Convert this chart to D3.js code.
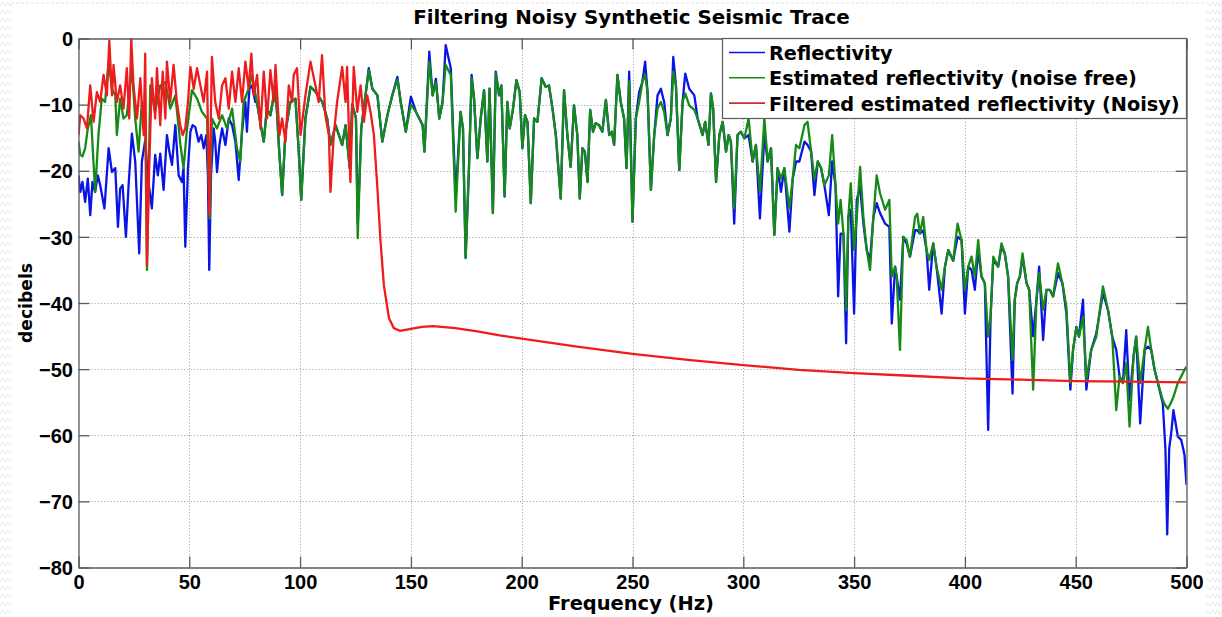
<!DOCTYPE html>
<html><head><meta charset="utf-8">
<script src="https://cdn.jsdelivr.net/npm/d3@7/dist/d3.min.js"></script>
<style>html,body{margin:0;padding:0;background:#fff;} svg{display:block}</style>
</head><body>
<svg id="chart" width="1222" height="617"></svg>
<script>
// ---------- DATA ----------
const chartTitle = "Filtering Noisy Synthetic Seismic Trace";
const xLabel = "Frequency (Hz)";
const yLabel = "decibels";
const freqTicks = [0, 50, 100, 150, 200, 250, 300, 350, 400, 450, 500];
const dbTicks = [0, -10, -20, -30, -40, -50, -60, -70, -80];
const seriesNames = ["Reflectivity", "Estimated reflectivity (noise free)", "Filtered estimated reflectivity (Noisy)"];

// [frequency Hz, decibels]
const reflectivity = [
[0,-20.7],[0.8,-23.2],[1.8,-21.7],[3,-24.7],[4.2,-21.2],[5.3,-26.7],[6.3,-21.7],[7.5,-23.2],[8.7,-20.7],[9.8,-22.2],
[11.7,-25.7],[13.6,-16.6],[15.1,-20.2],[16.6,-19.6],[17.8,-28.5],[18.8,-22.7],[19.9,-22.2],[21.4,-30],[22.6,-22.2],[24.1,-14.4],
[25.6,-18.6],[26.4,-24.7],[27.4,-32.5],[28.6,-18.6],[30.1,-15.4],[31.3,-21],[33.1,-25.7],[34.6,-17.6],[35.8,-20.7],[36.9,-17.4],
[38.4,-22.9],[39.9,-14.6],[41,-17.1],[42.2,-19.1],[43.7,-13.1],[45.2,-20.7],[46.7,-21.7],[47.4,-19.6],[48.2,-31.5],[49.4,-19.6],
[50.5,-14.1],[51.5,-13.1],[52.7,-13.4],[54.2,-15.6],[55.4,-14.6],[56.5,-16.6],[57.7,-14.6],[58.4,-20.7],[59,-35],[59.8,-20.7],
[61,-13.6],[61.7,-15.6],[62.5,-20.2],[63.6,-16.1],[64.8,-13.6],[66.3,-16.1],[67.8,-12.1],[69.3,-13.1],[70.8,-15.6],[72.3,-21.4],
[73.8,-14.1],[75.3,-9.6],[76,-14.1],[77.1,-7.6],[78.3,-7.1],[79.8,-9.6],
[80.5,-9.6],[82,-12.6],[83.6,-15.6],[85,-10.6],[86.6,-11.6],[88.9,-7.1],[90.4,-16.1],[91.9,-23.7],[93.4,-14.1],[95.6,-9.6],
[97.9,-9.1],[99.4,-17.1],[100.5,-24.4],[102.4,-12.1],[104.7,-7.3],[107,-8.1],[110,-9.6],[112.2,-12.1],[113.7,-16.1],[116,-13.1],
[119,-16.1],[120.5,-13.1],[122.4,-19.6],[123.5,-10],[125.2,-12],[126,-28],[127.6,-13.6],[129.5,-8.6],[131,-4.5],[132.6,-7.6],
[134.9,-8.6],[137.1,-15.6],[139.4,-11.6],[141.6,-8.6],[143.9,-5.8],[145.4,-9.6],[147.7,-14.1],[150,-8.8],[152.3,-11.1],[155.3,-13.1],
[156.1,-17.1],[158.3,-2],[159.8,-8.6],[161.3,-6.1],[162.8,-12.1],[164.3,-9.6],[165.7,-1],[168,-4.5],[170.2,-24],
[172.4,-11.1],[173.5,-13.6],[174.7,-33.2],[176.2,-19.6],[177.4,-5.5],[178.5,-9.1],[180,-18.1],[181.5,-12.1],[183,-7.8],[184.5,-18.6],
[185.5,-7.6],[187,-26.4],[188.3,-5],[189.8,-8.6],[190.8,-7.1],[192.3,-23.9],[193.5,-9.6],[194.6,-13.6],[196.1,-10.6],[197.6,-6.3],
[199.1,-8.1],[200.3,-16.6],[201.5,-11.6],[202.6,-12.6],[204.1,-24.9],[205.6,-12.1],[207.1,-12.6],[209,-6],[210.8,-7.3],[212.3,-7.1],
[213.9,-10.6],[215.4,-14.6],[217.6,-24.2],[219.1,-7.8],[220.6,-14.6],[222.1,-19.4],[223.6,-10.1],[225.1,-14.6],[226.2,-24.2],[227.4,-16.6],
[228.5,-17.1],[229.7,-21.7],[230.9,-10.8],[232.2,-14.1],[233.4,-12.8],[234.9,-13.1],[236.4,-14.1],[238,-9.3],[239.5,-14.6],[240.7,-14.1],
[241.7,-16.1],[243.2,-5.5],[244.7,-9.6],[246.2,-12.1],[247.3,-19.6],[248.5,-5],[250,-27.7],[251.5,-12.1],[253,-8.1],[254.5,-6.5],
[255.7,-3.5],[256.8,-8.1],[258.3,-22.9],[259.8,-14.6],[261.3,-8.6],[262.8,-7.6],[264.3,-9.6],[265.8,-14.6],[267.3,-12.1],[268.4,-2.8],
[269.6,-7.1],[271.1,-19.9],[272.6,-9.6],[273.8,-5.3],[275.6,-7.6],[277.9,-8.6],[279.4,-12.1],[281.6,-14.6],[282.8,-12.6],[284.3,-16.1],
[285.4,-8.3],[286.4,-10.6],[287.7,-21.7],[289.2,-14.6],[290.7,-12.6],[292.2,-17.1],[293.4,-14.6],[294.4,-15.6],[295.9,-28],[297.4,-14.6],
[298.9,-14.1],[300.5,-15.1],[302.4,-14.6],[304.2,-18.6],[305.7,-16.1],[307.5,-27.2],[309.5,-14.6],[311,-18.6],[312.5,-16.6],[314,-29.7],
[315.5,-19.6],[317,-23.2],[318.5,-19.6],[320.8,-29.2],[322.3,-21.2],[323.8,-18.6],[325.3,-18.6],[327.6,-15.6],[329,-16.1],[330.6,-17.1],
[332.1,-23.7],[333.6,-18.6],[335.1,-19.6],[336.6,-22.2],[338.6,-26.7],[340.1,-18.6],[341.6,-22.2],[342.8,-39],
[343.9,-29.5],[345.2,-29.5],[346.4,-46.1],[347.4,-27],[348.5,-25.9],[350,-41.6],[351.2,-24.4],[352.7,-22.4],[354.2,-28],[355.7,-32],
[357.2,-33.5],[358.7,-27],[360.2,-24.9],[361.7,-26.4],[364,-28],[365.9,-28.5],[367,-43.1],[368.5,-34.5],[369.2,-36],[370.7,-39.5],
[372.2,-30],[373.7,-31],[375.2,-33],[377.5,-29],[378.5,-29],[379.7,-29.5],[381.2,-29],[382.7,-32],[383.9,-38],[385.7,-31],
[387.2,-34.5],[389.5,-41.6],[391,-34.5],[392.5,-32],[394.7,-33.6],[396.7,-30],[398.5,-30.5],[400,-41.6],[401.5,-34.5],[403,-35],
[404.5,-38],[406,-32],[407.5,-36],[409,-37],[410.5,-59.2],[411.6,-42],[412.8,-33.5],[415,-34.5],[416.5,-31.5],[418,-32.5],
[419.5,-36],[421.5,-53.7],[422.5,-39.5],[423.6,-37],[424.8,-36],[426,-33],[427.8,-37],[429,-38],[430.8,-45],[432.3,-39.5],
[433.5,-34.5],[435.3,-45.6],[436.8,-38],[438.3,-38],[439.8,-39],[442,-35.5],[444,-37],[445.8,-41.6],[447.6,-53.1],[448.8,-47.1],
[450.3,-43.6],[451.5,-45.1],[453.3,-39.5],[454.8,-53.1],[457,-47.1],[459.3,-44.6],[462.3,-38.5],[464.6,-41.1],[466.5,-45.1],[468.3,-47.1],
[469.8,-51.1],[471.3,-52.1],[472.8,-44.1],[474.3,-54.7],[476.1,-48.1],[477.3,-45.1],[479.1,-58.2],[481.1,-47.1],[482.6,-46.6],[484.1,-47.1],
[485.6,-50.1],[487.1,-52.1],[489.3,-55.2],[490.5,-62.2],[491.3,-75],[492.2,-62],[493.1,-59.7],[494.1,-56.2],[495,-58],[496.1,-60.2],
[497.6,-60.7],[498.5,-62],[499.1,-63],[500,-67.5]
];

const estimatedNoiseFree = [
[0,-15.6],[0.8,-17.6],[1.8,-17.8],[3,-16.6],[4.2,-13.6],[5,-12.6],[5.6,-11.6],[7.5,-23.2],[9,-14.6],[10.5,-9.1],
[12,-9.6],[13.6,-3.5],[15.1,-7.6],[16.6,-8.6],[17.3,-14.6],[18.8,-9.1],[20.3,-12.1],[21.8,-11.6],[24.1,-4.5],[25.6,-12.1],
[27.1,-17.1],[28.6,-9.6],[30.1,-12],[30.9,-35],[32.4,-7.1],[34.6,-11.1],[36.9,-7.1],[39.2,-6.6],[41.4,-10.6],[43.7,-8.6],
[46,-16.1],[47.4,-19.6],[49,-13.6],[51.2,-7.8],[53.5,-9.1],[55.7,-11.1],[58,-12.1],[59.2,-27.2],[60.2,-12.1],[62.5,-13.6],
[64.8,-11.6],[67,-13.6],[69.3,-10.6],[71.5,-16.6],[73,-18.6],[74.5,-9.6],[76.8,-7.6],[78.3,-5.5],
[80.5,-9.6],[82,-12.6],[83.6,-15.6],[85,-10.6],[86.6,-11.6],[88.9,-7.1],[90.4,-16.1],[91.9,-23.7],[93.4,-14.1],[95.6,-9.6],
[97.9,-9.1],[99.4,-17.1],[100.5,-24.4],[102.4,-12.1],[104.7,-7.3],[107,-8.1],[110,-9.6],[112.2,-12.1],[113.7,-16.1],[116,-13.1],
[119,-16.1],[120.5,-13.1],[122.4,-19.6],[123.5,-10],[125.2,-12],[126,-30.2],[127.6,-13.6],[129.5,-8.6],[131,-4.8],[132.6,-7.6],
[134.9,-8.6],[137.1,-15.6],[139.4,-11.6],[141.6,-8.6],[143.9,-6.2],[145.4,-9.6],[147.7,-14.1],[150,-10],[152.3,-11.1],[155.3,-13.1],
[156.1,-17.1],[158.3,-3.5],[159.8,-8.6],[161.3,-6.6],[162.8,-12.1],[164.3,-9.6],[165.7,-4],[168,-5.5],[170.2,-26.2],
[172.4,-11.1],[173.5,-13.6],[174.7,-33.2],[176.2,-19.6],[177.4,-6],[178.5,-9.1],[180,-18.1],[181.5,-12.1],[183,-7.8],[184.5,-18.6],
[185.5,-7.6],[187,-26.4],[188.3,-5.3],[189.8,-8.6],[190.8,-7.1],[192.3,-23.9],[193.5,-9.6],[194.6,-13.6],[196.1,-10.6],[197.6,-6.3],
[199.1,-8.1],[200.3,-16.6],[201.5,-11.6],[202.6,-12.6],[204.1,-24.9],[205.6,-12.1],[207.1,-12.6],[209,-6],[210.8,-7.3],[212.3,-7.1],
[213.9,-10.6],[215.4,-14.6],[217.6,-24.2],[219.1,-7.8],[220.6,-14.6],[222.1,-19.4],[223.6,-10.1],[225.1,-14.6],[226.2,-24.2],[227.4,-16.6],
[228.5,-17.1],[229.7,-21.7],[230.9,-10.8],[232.2,-14.1],[233.4,-12.8],[234.9,-13.1],[236.4,-14.1],[238,-9.3],[239.5,-14.6],[240.7,-14.1],
[241.7,-16.1],[243.2,-5.5],[244.7,-9.6],[246.2,-12.1],[247.3,-19.6],[248.5,-6.5],[250,-27.7],[251.5,-12.1],[253,-9.6],[254.5,-6.5],
[255.7,-5.5],[256.8,-8.1],[258.3,-22.9],[259.8,-14.6],[261.3,-10.6],[262.8,-9.6],[264.3,-11.1],[265.8,-14.6],[267.3,-12.1],[268.4,-5],
[269.6,-7.1],[271.1,-19.9],[272.6,-9.6],[273.8,-8.3],[275.6,-10.1],[277.9,-10.8],[279.4,-12.1],[281.6,-14.6],[282.8,-12.6],[284.3,-16.1],
[285.4,-8.3],[286.4,-10.6],[287.7,-21.7],[289.2,-14.6],[290.7,-12.6],[292.2,-17.1],[293.4,-14.6],[294.4,-15.6],[295.9,-25.7],[297.4,-14.6],
[298.9,-14.1],[300.5,-15.1],[302.4,-12.1],[304.2,-18.6],[305.7,-16.1],[307.5,-23.2],[309.5,-12.1],[311,-18.6],[312.5,-16.6],[314,-29.7],
[315.5,-19.6],[317,-21.2],[318.5,-19.6],[320.8,-25.7],[322.3,-21.2],[323.8,-16.1],[325.3,-16.6],[327.6,-13.1],[329,-12.6],[330.6,-17.1],
[332.1,-21.2],[333.6,-18.6],[335.1,-19.6],[336.6,-22.2],[338.6,-20.7],[340.1,-14.6],[341.6,-22.2],[342.8,-28],
[343.9,-24.4],[345.2,-29.5],[346.4,-41.1],[347.4,-27],[348.5,-21.9],[350,-32],[351.2,-27],[352.7,-19.4],[354.2,-27],[355.7,-32],
[357.2,-35],[358.7,-27],[360.2,-20.7],[361.7,-23.4],[364,-25.9],[365.9,-24.4],[367,-36],[368.5,-34.5],[369.2,-36],[370.7,-47.1],
[372.2,-30],[373.7,-30.5],[375.2,-33],[377.5,-27],[378.5,-26.5],[379.7,-29.5],[381.2,-27],[382.7,-32],[383.9,-33.5],[385.7,-31],
[387.2,-34.5],[389.5,-38],[391,-34.5],[392.5,-32],[394.7,-33.6],[396.7,-28],[398.5,-30.5],[400,-38],[401.5,-34.5],[403,-33],
[404.5,-36],[406,-30.5],[407.5,-36],[409,-37],[410.5,-45.1],[411.6,-42],[412.8,-33],[415,-34.5],[416.5,-31],[418,-32.5],
[419.5,-36],[421.5,-48.6],[422.5,-39.5],[423.6,-37],[424.8,-36],[426,-32.5],[427.8,-37],[429,-38],[430.8,-53.1],[432.3,-39.5],
[433.5,-35.5],[435.3,-41],[436.8,-38],[438.3,-38],[439.8,-39],[442,-34],[444,-37],[445.8,-40.6],[447.6,-52.1],[448.8,-47.1],
[450.3,-43.6],[451.5,-45.1],[453.3,-42.1],[454.8,-51.6],[457,-47.1],[459.3,-45.1],[462.3,-37.5],[464.6,-41.1],[466.5,-45.1],[468.3,-56.2],
[469.8,-51.1],[471.3,-52.1],[472.8,-49.1],[474.3,-58.7],[476.1,-48.1],[477.3,-45.1],[479.1,-52.1],[481.1,-47.1],[482.6,-43.6],[484.1,-47.1],
[485.6,-50.1],[487.1,-52.1],[489.3,-54.7],[490.5,-55.5],[491.6,-56],[493.1,-55],[494.1,-54.2],[496.1,-52.1],[497.6,-51.1],[499.1,-50.1],
[500,-49.6]
];

const filteredNoisy = [
[0,-14.6],[0.8,-11.6],[2.3,-12.1],[3.8,-13.6],[5.3,-7.1],[6.8,-12.6],[8.3,-8.1],[9.8,-9.6],[11.3,-5.5],[12.8,-8.6],
[13.9,-0.3],[15.1,-8.6],[15.8,-4],[17.3,-9.6],[18.8,-7.1],[20.3,-10.6],[21.8,-4.5],[22.9,-12.1],[23.8,0],[24.8,-7.1],
[26.4,-12.1],[27.9,-6],[29.4,-14.6],[30.1,-2.3],[30.9,-34.3],[31.9,-19.6],[33.1,-6],[34.6,-12.1],[35.4,-4.5],[36.9,-13.1],
[38,-5],[39.2,-12.1],[39.9,-3.5],[41.4,-9.6],[42.9,-4],[44.4,-9.6],[45.9,-13.1],[47,-14.6],[48.2,-13.6],[49.4,-9.6],
[50.5,-4.3],[52,-7.6],[53.5,-4.5],[55,-7.1],[56.5,-9.6],[58,-5],[59,-26.7],[60.2,-2.8],[61.7,-9.6],[63.3,-12.1],
[64.8,-7.1],[66.3,-6],[67.8,-10.6],[69.3,-5],[70.8,-9.6],[72.3,-4.5],[73.8,-9.6],[75.3,-3.5],[76.8,-7.6],[78,-2.3],
[79.1,-8.6],[80.6,-5.5],[82.1,-13.6],[83.6,-5],[85.1,-12.1],[86.6,-4.8],[88.1,-9.6],[88.9,-4],[90.7,-14.6],[91.9,-12.1],
[93.4,-15.6],[94.9,-7.1],[96.4,-9.6],[97.1,-5.5],[98.6,-4.5],[100.2,-14.6],[102.4,-8.6],[104.7,-3.5],[106.9,-7.1],[108.4,-9.6],
[109.9,-2.5],[111.4,-11.6],[113,-14.6],[113.7,-23.2],[115.2,-14.6],[116.7,-9.6],[119,-4.3],[120.5,-9.6],[121.2,-4.3],[122.7,-21.7],
[124.2,-4.3],[125.8,-11.1],[127.3,-7.1],[128.8,-12.6],[130.3,-8.6],[131.8,-11.1],[133.3,-14.6],[134.8,-22.2],[136.3,-30.7],[137.8,-37.3],
[140.1,-42.3],[142.3,-43.8],[145,-44.2],[150,-43.9],[155,-43.6],[160,-43.5],[170,-43.8],[180,-44.3],[190,-44.9],[200,-45.4],
[225,-46.6],[250,-47.7],[275,-48.6],[300,-49.4],[325,-50.1],[350,-50.6],[375,-51],[400,-51.4],[425,-51.6],[450,-51.8],
[475,-51.9],[500,-52]
];

const seriesColors = ["#0a14e6", "#168a16", "#ee1c1c"];

// ---------- DRAW ----------
const svg = d3.select("#chart");
const W = 1222, H = 617;
const plot = {left: 78.5, right: 1186.5, top: 38.5, bottom: 567.5};
const x = d3.scaleLinear().domain([0, 500]).range([plot.left, plot.right]);
const y = d3.scaleLinear().domain([-80, 0]).range([plot.bottom, plot.top]);

// faint patterned page background with white card
const defs = svg.append("defs");
const pat = defs.append("pattern").attr("id", "zz").attr("width", 10).attr("height", 8)
  .attr("patternUnits", "userSpaceOnUse");
pat.append("path").attr("d", "M0,6 L2.5,2 L5,6 L7.5,2 L10,6").attr("fill", "none")
  .attr("stroke", "#e6e6e6").attr("stroke-width", 1);
svg.append("rect").attr("width", W).attr("height", H).attr("fill", "#fff");
svg.append("rect").attr("width", W).attr("height", H).attr("fill", "url(#zz)");
svg.append("rect").attr("x", 12).attr("y", 4).attr("width", 1194).attr("height", H - 4).attr("fill", "#fff");

defs.append("clipPath").attr("id", "clip").append("rect")
  .attr("x", plot.left).attr("y", plot.top)
  .attr("width", plot.right - plot.left).attr("height", plot.bottom - plot.top);

// grid
const grid = svg.append("g").attr("stroke", "#9a9a9a").attr("stroke-width", 1)
  .attr("stroke-dasharray", "1,2.2");
grid.selectAll(".vg").data(freqTicks.filter(d => d > 0 && d < 500)).enter().append("line")
  .attr("x1", d => Math.round(x(d)) + 0.5).attr("x2", d => Math.round(x(d)) + 0.5)
  .attr("y1", plot.top).attr("y2", plot.bottom);
grid.selectAll(".hg").data(dbTicks.filter(d => d < 0 && d > -80)).enter().append("line")
  .attr("y1", d => Math.round(y(d)) + 0.5).attr("y2", d => Math.round(y(d)) + 0.5)
  .attr("x1", plot.left).attr("x2", plot.right);

// series
const line = d3.line().x(d => x(d[0])).y(d => y(d[1]));
const seriesData = [reflectivity, estimatedNoiseFree, filteredNoisy];
const lines = svg.append("g").attr("clip-path", "url(#clip)");
seriesData.forEach((data, i) => {
  lines.append("path").datum(data).attr("d", line).attr("fill", "none")
    .attr("stroke", seriesColors[i]).attr("stroke-width", 2.3).attr("stroke-linejoin", "round");
});

// axes
const tickFont = "'Liberation Sans', Arial, sans-serif";
const axCol = "#5a5a5a";
function styleAxis(g) {
  g.select(".domain").attr("stroke", axCol).attr("stroke-width", 1.3);
  g.selectAll(".tick line").attr("stroke", axCol).attr("stroke-width", 1.3);
  g.selectAll("text").attr("font-family", tickFont).attr("font-weight", "bold")
    .attr("font-size", 20).attr("fill", "#000");
}
const gx = svg.append("g").attr("transform", `translate(0,${plot.bottom})`)
  .call(d3.axisBottom(x).tickValues(freqTicks).tickFormat(d3.format("d")).tickSize(-11).tickSizeOuter(0));
styleAxis(gx);
gx.selectAll("text").attr("y", 21.5).attr("dy", null);

const gy = svg.append("g").attr("transform", `translate(${plot.left},0)`)
  .call(d3.axisLeft(y).tickValues(dbTicks).tickFormat(d3.format("d")).tickSize(-11).tickSizeOuter(0));
styleAxis(gy);
gy.selectAll("text").attr("x", -5.5).attr("dy", "0.36em");

const gt = svg.append("g").attr("transform", `translate(0,${plot.top})`)
  .call(d3.axisTop(x).tickValues(freqTicks).tickFormat("").tickSize(-11).tickSizeOuter(0));
styleAxis(gt);
const gr = svg.append("g").attr("transform", `translate(${plot.right},0)`)
  .call(d3.axisRight(y).tickValues(dbTicks).tickFormat("").tickSize(-11).tickSizeOuter(0));
styleAxis(gr);

// text helper: fit to measured width
const labelFont = "'DejaVu Sans', Verdana, sans-serif";
function fitText(sel, target) {
  const len = sel.node().getComputedTextLength();
  const fs = parseFloat(sel.attr("font-size"));
  sel.attr("font-size", fs * target / len);
}

const title = svg.append("text").attr("x", 631.5).attr("y", 24).attr("text-anchor", "middle")
  .attr("font-family", labelFont).attr("font-weight", "bold").attr("font-size", 17).text(chartTitle);
fitText(title, 437);

const xl = svg.append("text").attr("x", 631).attr("y", 610).attr("text-anchor", "middle")
  .attr("font-family", labelFont).attr("font-weight", "bold").attr("font-size", 17.5).text(xLabel);
fitText(xl, 166);

const yl = svg.append("text").attr("transform", "translate(31.5,303) rotate(-90)").attr("text-anchor", "middle")
  .attr("font-family", labelFont).attr("font-weight", "bold").attr("font-size", 17).text(yLabel);
fitText(yl, 80);

// legend
const leg = svg.append("g");
leg.append("rect").attr("x", 722.5).attr("y", plot.top).attr("width", plot.right - 722.5).attr("height", 80)
  .attr("fill", "#fff").attr("stroke", axCol).attr("stroke-width", 1.2);
const legItems = leg.selectAll(".li").data(seriesNames).enter().append("g");
legItems.append("line").attr("x1", 729).attr("x2", 765)
  .attr("y1", (d, i) => 52.5 + i * 25.3).attr("y2", (d, i) => 52.5 + i * 25.3)
  .attr("stroke", (d, i) => i === 2 ? "#c83030" : seriesColors[i]).attr("stroke-width", 1.6);
const legTexts = legItems.append("text").attr("x", 769).attr("y", (d, i) => 60 + i * 25.3)
  .attr("font-family", labelFont).attr("font-weight", "bold").attr("font-size", 18).attr("fill", "#000")
  .text(d => d);
const longest = legTexts.filter((d, i) => i === 2);
const lenL = longest.node().getComputedTextLength();
legTexts.attr("font-size", 18 * 411 / lenL);
</script>
</body></html>
